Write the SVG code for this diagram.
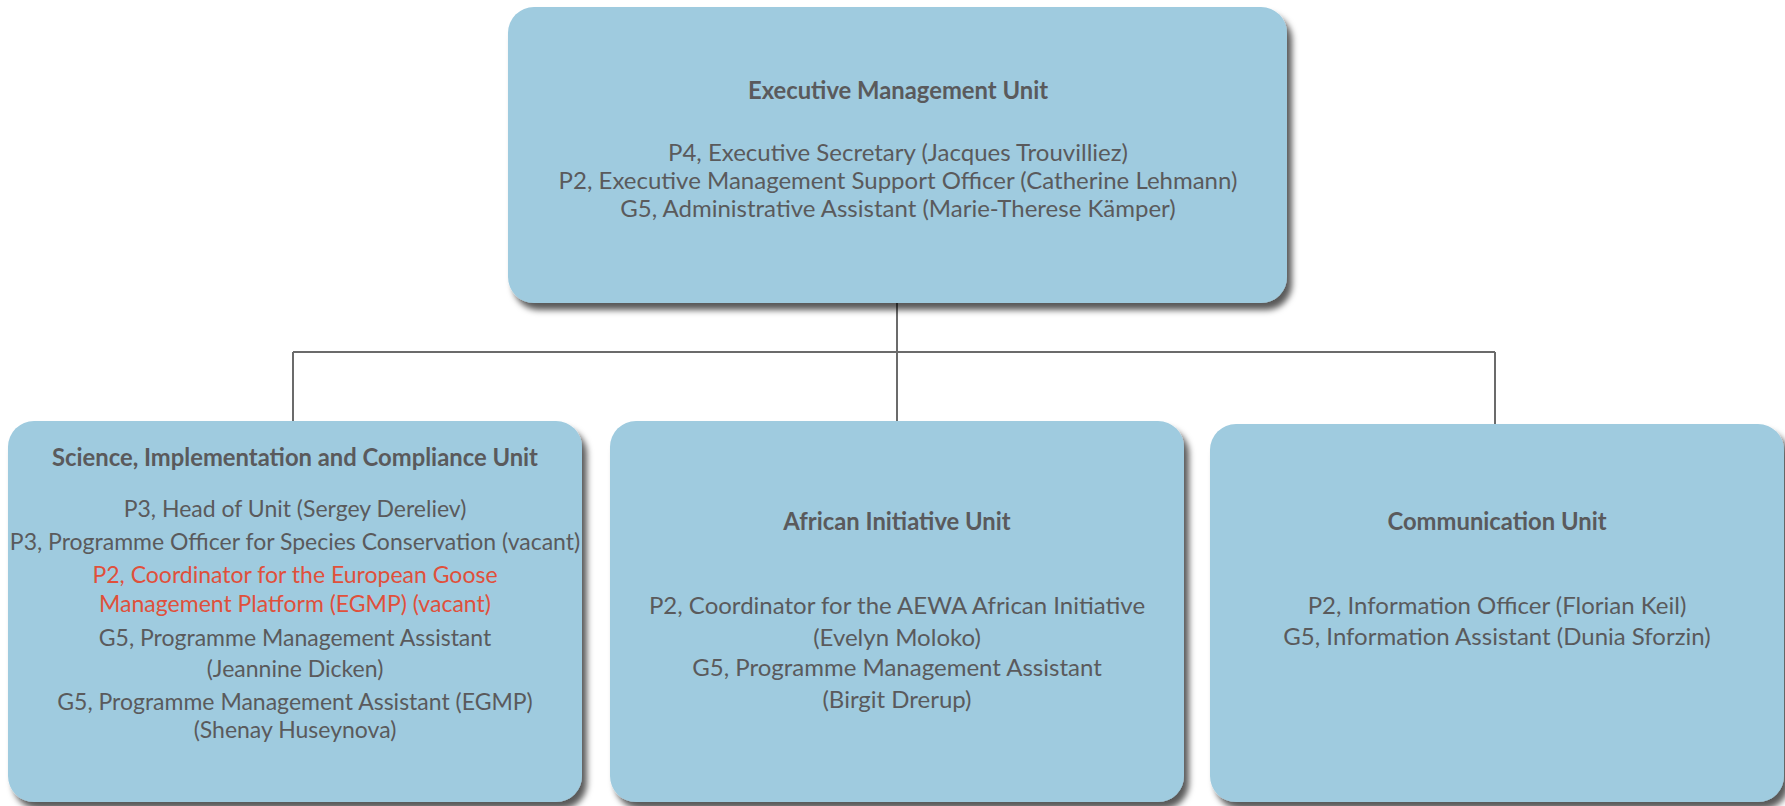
<svg xmlns="http://www.w3.org/2000/svg" width="1785" height="806" viewBox="0 0 1785 806">
<defs>
<filter id="sh" x="-5%" y="-5%" width="115%" height="120%">
<feDropShadow dx="5" dy="7" stdDeviation="3" flood-color="#000" flood-opacity="0.65"/>
</filter>
<style>
.box{fill:#9fcbdf;filter:url(#sh)}
text{font-family:Lato,"Open Sans","Liberation Sans",sans-serif;text-anchor:middle;fill:#5a5a5c;font-size:24px}
.t{font-weight:bold;font-size:23.8px}
.s{font-size:23px}
.red{fill:#e0503b}
.ln{stroke:#6b6b6b;stroke-width:2;fill:none}
</style>
</defs>
<g id="connectors">
<path class="ln" d="M897 303 V352"/>
<path class="ln" d="M293 352 H1495"/>
<path class="ln" d="M293 352 V421 M897 352 V421 M1495 352 V424"/>
</g>
<g id="executive">
<rect class="box" x="508" y="7" width="779" height="296" rx="26"/>
<text class="t" x="898" y="99">Executive Management Unit</text>
<text x="898" y="161">P4, Executive Secretary (Jacques Trouvilliez)</text>
<text x="898" y="189">P2, Executive Management Support Officer (Catherine Lehmann)</text>
<text x="898" y="217">G5, Administrative Assistant (Marie-Therese Kämper)</text>
</g>
<g id="science">
<rect class="box" x="8" y="421" width="574" height="381" rx="26"/>
<text class="t" x="295" y="466">Science, Implementation and Compliance Unit</text>
<text class="s" x="295" y="517">P3, Head of Unit (Sergey Dereliev)</text>
<text class="s" x="295" y="550">P3, Programme Officer for Species Conservation (vacant)</text>
<text class="s red" x="295" y="583">P2, Coordinator for the European Goose</text>
<text class="s red" x="295" y="612">Management Platform (EGMP) (vacant)</text>
<text class="s" x="295" y="646">G5, Programme Management Assistant</text>
<text class="s" x="295" y="677">(Jeannine Dicken)</text>
<text class="s" x="295" y="710">G5, Programme Management Assistant (EGMP)</text>
<text class="s" x="295" y="738">(Shenay Huseynova)</text>
</g>
<g id="african">
<rect class="box" x="610" y="421" width="574" height="381" rx="26"/>
<text class="t" x="897" y="530">African Initiative Unit</text>
<text x="897" y="614">P2, Coordinator for the AEWA African Initiative</text>
<text x="897" y="646">(Evelyn Moloko)</text>
<text x="897" y="676">G5, Programme Management Assistant</text>
<text x="897" y="708">(Birgit Drerup)</text>
</g>
<g id="communication">
<rect class="box" x="1210" y="424" width="574" height="378" rx="26"/>
<text class="t" x="1497" y="530">Communication Unit</text>
<text x="1497" y="614">P2, Information Officer (Florian Keil)</text>
<text x="1497" y="645">G5, Information Assistant (Dunia Sforzin)</text>
</g>
</svg>
